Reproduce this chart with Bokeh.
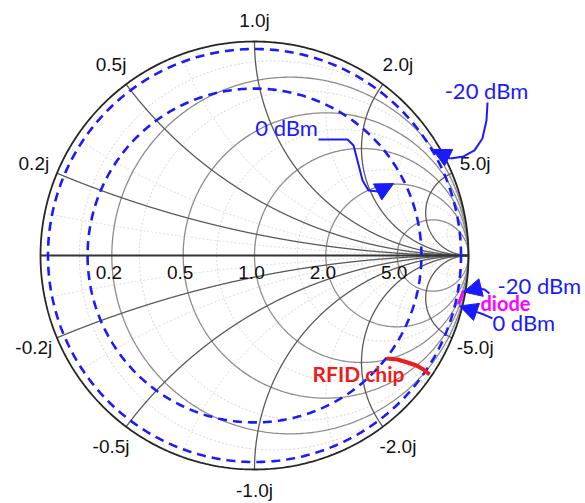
import numpy as np
from bokeh.plotting import figure
from bokeh.models import Range1d, Arrow, NormalHead
from bokeh.embed import file_html
from bokeh.resources import INLINE
from bokeh.core.properties import value

# ---- data -------------------------------------------------------------
major_r = [0.2, 0.5, 1.0, 2.0, 5.0]
major_x = [0.2, 0.5, 1.0, 2.0, 5.0]
minor_r = [0.1, 0.3, 0.7, 1.5, 3.0, 10.0]
minor_x = [0.1, 0.3, 0.7, 1.5, 3.0, 10.0]
real_labels = ["0.2", "0.5", "1.0", "2.0", "5.0"]
imag_pos_labels = ["0.2j", "0.5j", "1.0j", "2.0j", "5.0j"]
imag_neg_labels = ["-0.2j", "-0.5j", "-1.0j", "-2.0j", "-5.0j"]

# |Gamma| circles for the two power levels
gamma_mag_0dbm = 0.78
gamma_mag_m20dbm = 0.965

# measured trajectories (reflection coefficient, re / im)
rfid_re = [0.617, 0.668, 0.715, 0.757, 0.790, 0.818]
rfid_im = [-0.481, -0.486, -0.500, -0.514, -0.533, -0.556]
diode_re = [0.953, 0.967, 0.977]
diode_im = [-0.229, -0.192, -0.164]

# annotation callout paths (reflection-coefficient plane)
call_m20_top_re = [1.089, 1.084, 1.065, 1.028, 0.977, 0.916]
call_m20_top_im = [0.715, 0.631, 0.547, 0.491, 0.463, 0.453]
call_m20_top_tip = (0.832, 0.495)
call_0_top_re = [0.299, 0.379, 0.435, 0.463, 0.481, 0.505, 0.533, 0.579]
call_0_top_im = [0.542, 0.542, 0.542, 0.514, 0.444, 0.350, 0.304, 0.299]
call_0_top_tip = (0.650, 0.336)
call_m20_bot_re = [1.098, 1.075, 1.042]
call_m20_bot_im = [-0.178, -0.159, -0.154]
call_m20_bot_tip = (0.977, -0.170)
call_0_bot_re = [1.112, 1.072, 1.033]
call_0_bot_im = [-0.294, -0.276, -0.262]
call_0_bot_tip = (0.958, -0.236)

# ---- geometry helpers -------------------------------------------------
def r_circle(r, n=500):
    t = np.linspace(0, 2 * np.pi, n)
    c = r / (1 + r)
    rad = 1 / (1 + r)
    return list(c + rad * np.cos(t)), list(rad * np.sin(t))

def x_arc(x, n=1500):
    u = np.linspace(0, 0.9995, n)
    rr = u / (1 - u)
    z = rr + 1j * x
    g = (z - 1) / (z + 1)
    return list(np.append(g.real, 1.0)), list(np.append(g.imag, 0.0))

def gamma_circle(m, n=600):
    t = np.linspace(0, 2 * np.pi, n)
    return list(m * np.cos(t)), list(m * np.sin(t))

# ---- figure -------------------------------------------------------------
W, H = 585, 503
CX, CY, R = 254, 255, 214
p = figure(width=W, height=H, output_backend="svg", toolbar_location=None,
           x_range=Range1d(-CX / R, (W - CX) / R),
           y_range=Range1d((CY - H) / R, CY / R),
           min_border=0, x_axis_location=None, y_axis_location=None)
p.grid.visible = False
p.outline_line_color = None
p.background_fill_color = "white"

# minor grid
xs, ys = [], []
for r in minor_r:
    a, b = r_circle(r); xs.append(a); ys.append(b)
for x in minor_x:
    for s in (1, -1):
        a, b = x_arc(s * x); xs.append(a); ys.append(b)
p.multi_line(xs, ys, line_color="#d6d6d6", line_width=1, line_dash="2 2")

# major resistance circles
xs, ys = [], []
for r in major_r:
    a, b = r_circle(r); xs.append(a); ys.append(b)
p.multi_line(xs, ys, line_color="#8c8c8c", line_width=1.3)

# major reactance arcs
xs, ys = [], []
for x in major_x:
    for s in (1, -1):
        a, b = x_arc(s * x); xs.append(a); ys.append(b)
p.multi_line(xs, ys, line_color="#5a5a5a", line_width=1.3)

# outer circle and real axis
a, b = r_circle(0.0)
p.line(a, b, line_color="#262626", line_width=1.8)
p.line([-1, 1], [0, 0], line_color="#333333", line_width=1.8)

# power circles
for m in (gamma_mag_0dbm, gamma_mag_m20dbm):
    a, b = gamma_circle(m)
    p.line(a, b, line_color="#1a1aff", line_width=2.6, line_dash="9 6")

# tick labels
lab_font = value("Liberation Sans")
rx = [(r - 1) / (r + 1) for r in major_r]
p.text(rx, [0] * len(rx), text=real_labels, text_font=lab_font,
       text_font_size="19px", text_align="center", text_baseline="middle",
       x_offset=-3, y_offset=17, text_color="#111111")

lx, ly, lt = [], [], []
for x, tp, tn in zip(major_x, imag_pos_labels, imag_neg_labels):
    g = (1j * x - 1) / (1j * x + 1)
    f = 1.10 if x == 1.0 else 1.117
    lx += [g.real * f, g.real * f]
    ly += [g.imag * f, -g.imag * f]
    lt += [tp, tn]
p.text(lx, ly, text=lt, text_font=lab_font, text_font_size="19px",
       text_align="center", text_baseline="middle", text_color="#111111")

# measured trajectories
p.line(rfid_re, rfid_im, line_color="#ee1c1c", line_width=4)
p.line(diode_re, diode_im, line_color="#ff00ff", line_width=3)

# callouts
blue = "#1a1aff"
for pre, pim, tip in ((call_m20_top_re, call_m20_top_im, call_m20_top_tip),
                      (call_0_top_re, call_0_top_im, call_0_top_tip),
                      (call_m20_bot_re, call_m20_bot_im, call_m20_bot_tip),
                      (call_0_bot_re, call_0_bot_im, call_0_bot_tip)):
    p.line(pre, pim, line_color=blue, line_width=2)
    p.add_layout(Arrow(end=NormalHead(size=18, fill_color=blue, line_color=blue),
                       x_start=pre[-1], y_start=pim[-1], x_end=tip[0], y_end=tip[1],
                       line_color=blue, line_width=2))

ann_font = value("Lato")
p.text([1.084], [0.771], text=["-20 dBm"], text_font=ann_font, text_font_size="22px",
       text_align="center", text_baseline="middle", text_color=blue)
p.text([0.150], [0.598], text=["0 dBm"], text_font=ann_font, text_font_size="22px",
       text_align="center", text_baseline="middle", text_color=blue)
p.text([1.136], [-0.140], text=["-20 dBm"], text_font=ann_font, text_font_size="22px",
       text_align="left", text_baseline="middle", text_color=blue)
p.text([1.112], [-0.313], text=["0 dBm"], text_font=ann_font, text_font_size="22px",
       text_align="left", text_baseline="middle", text_color=blue)
p.text([1.056], [-0.220], text=["diode"], text_font=ann_font, text_font_size="20px",
       text_font_style="bold", text_align="left", text_baseline="middle",
       text_color="#ff00ff")
p.text([0.486], [-0.551], text=["RFID chip"], text_font=ann_font, text_font_size="21px",
       text_font_style="bold", text_align="center", text_baseline="middle",
       text_color="#ee1c1c")

open("out.html", "w").write(file_html(p, INLINE))
